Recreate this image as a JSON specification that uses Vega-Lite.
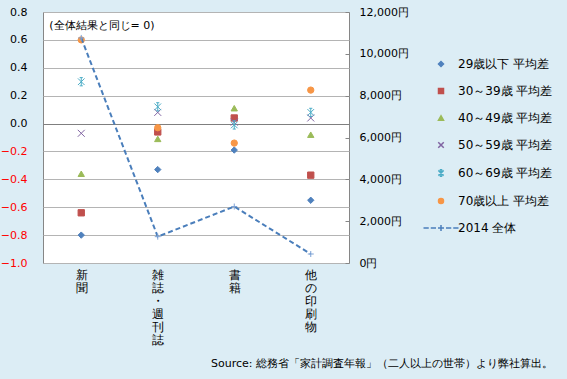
{
  "$schema": "https://vega.github.io/schema/vega-lite/v6.json",
  "width": 306,
  "height": 251,
  "autosize": {"type": "none"},
  "padding": {"left": 43, "top": 12, "right": 218, "bottom": 116},
  "background": "#dcedf5",
  "config": {
    "font": "DejaVu Sans",
    "view": {"fill": "white", "stroke": "#868686", "strokeWidth": 1},
    "axis": {"labelFont": "DejaVu Sans", "labelFontSize": 11, "labelColor": "#000000"}
  },
  "title": {
    "text": "Source: 総務省「家計調査年報」（二人以上の世帯）より弊社算出。",
    "orient": "bottom",
    "anchor": "end",
    "frame": "bounds",
    "offset": 13,
    "fontSize": 11,
    "fontWeight": "normal",
    "font": "DejaVu Sans",
    "color": "#000000"
  },
  "datasets": {
    "pts": [
      {"cat": "新聞", "series": "29歳以下 平均差", "value": -0.80},
      {"cat": "雑誌・週刊誌", "series": "29歳以下 平均差", "value": -0.33},
      {"cat": "書籍", "series": "29歳以下 平均差", "value": -0.19},
      {"cat": "他の印刷物", "series": "29歳以下 平均差", "value": -0.55},
      {"cat": "新聞", "series": "30～39歳 平均差", "value": -0.64},
      {"cat": "雑誌・週刊誌", "series": "30～39歳 平均差", "value": -0.06},
      {"cat": "書籍", "series": "30～39歳 平均差", "value": 0.04},
      {"cat": "他の印刷物", "series": "30～39歳 平均差", "value": -0.37},
      {"cat": "新聞", "series": "40～49歳 平均差", "value": -0.36},
      {"cat": "雑誌・週刊誌", "series": "40～49歳 平均差", "value": -0.11},
      {"cat": "書籍", "series": "40～49歳 平均差", "value": 0.11},
      {"cat": "他の印刷物", "series": "40～49歳 平均差", "value": -0.08},
      {"cat": "新聞", "series": "50～59歳 平均差", "value": -0.07},
      {"cat": "雑誌・週刊誌", "series": "50～59歳 平均差", "value": 0.08},
      {"cat": "書籍", "series": "50～59歳 平均差", "value": 0.01},
      {"cat": "他の印刷物", "series": "50～59歳 平均差", "value": 0.04},
      {"cat": "新聞", "series": "60～69歳 平均差", "value": 0.30},
      {"cat": "雑誌・週刊誌", "series": "60～69歳 平均差", "value": 0.12},
      {"cat": "書籍", "series": "60～69歳 平均差", "value": -0.01},
      {"cat": "他の印刷物", "series": "60～69歳 平均差", "value": 0.08},
      {"cat": "新聞", "series": "70歳以上 平均差", "value": 0.60},
      {"cat": "雑誌・週刊誌", "series": "70歳以上 平均差", "value": -0.03},
      {"cat": "書籍", "series": "70歳以上 平均差", "value": -0.14},
      {"cat": "他の印刷物", "series": "70歳以上 平均差", "value": 0.24}
    ],
    "line": [
      {"cat": "新聞", "series": "2014 全体", "yen": 10760},
      {"cat": "雑誌・週刊誌", "series": "2014 全体", "yen": 1260},
      {"cat": "書籍", "series": "2014 全体", "yen": 2700},
      {"cat": "他の印刷物", "series": "2014 全体", "yen": 430}
    ],
    "note": [{"cat": "新聞", "label": "(全体結果と同じ= 0)", "v": 0.70}]
  },
  "encoding": {
    "x": {
      "field": "cat",
      "type": "nominal",
      "sort": ["新聞", "雑誌・週刊誌", "書籍", "他の印刷物"],
      "scale": {"padding": 0.5},
      "axis": {
        "title": null,
        "labelAngle": 0,
        "labelExpr": "split(datum.label, '')",
        "labelFontSize": 12,
        "labelLineHeight": 13,
        "labelBaseline": "top",
        "labelPadding": 6,
        "ticks": false,
        "domain": false,
        "grid": false
      }
    }
  },
  "layer": [
    {
      "encoding": {
        "y": {
          "type": "quantitative",
          "scale": {"domain": [-1, 0.8], "nice": false, "zero": false},
          "axis": {
            "title": null,
            "orient": "left",
            "values": [-1, -0.8, -0.6, -0.4, -0.2, 0, 0.2, 0.4, 0.6, 0.8],
            "format": ".1f",
            "ticks": false,
            "domain": false,
            "labelPadding": 16,
            "labelColor": {"condition": {"test": "datum.value < 0", "value": "#ff0000"}, "value": "#000000"},
            "grid": true,
            "gridColor": {"condition": {"test": "datum.value === 0", "value": "#7f7f7f"}, "value": "#b4b4b4"},
            "gridOpacity": 1
          }
        }
      },
      "layer": [
        {
          "data": {"name": "pts"},
          "mark": {"type": "point", "filled": true, "size": 40, "opacity": 1, "strokeWidth": 1},
          "encoding": {
            "y": {"field": "value"},
            "color": {
              "field": "series",
              "type": "nominal",
              "scale": {
                "domain": ["29歳以下 平均差", "30～39歳 平均差", "40～49歳 平均差", "50～59歳 平均差", "60～69歳 平均差", "70歳以上 平均差", "2014 全体"],
                "range": ["#4f81bd", "#c0504d", "#9bbb59", "#8064a2", "#4bacc6", "#f79646", "#4a7ebb"]
              },
              "legend": {
                "title": null,
                "orient": "none",
                "legendX": 392,
                "legendY": 46,
                "labelFontSize": 12,
                "labelFont": "DejaVu Sans",
                "labelColor": "#000000",
                "symbolSize": 25,
                "rowPadding": 15,
                "labelOffset": 11,
                "labelLimit": 200,
                "encode": {
                  "symbols": {
                    "update": {
                      "stroke": {"scale": "color", "field": "value"},
                      "strokeWidth": [{"test": "datum.value === '2014 全体'", "value": 2}, {"value": 1}],
                      "fill": {"scale": "color", "field": "value"},
                      "opacity": {"value": 1}
                    }
                  }
                }
              }
            },
            "shape": {
              "field": "series",
              "type": "nominal",
              "scale": {
                "domain": ["29歳以下 平均差", "30～39歳 平均差", "40～49歳 平均差", "50～59歳 平均差", "60～69歳 平均差", "70歳以上 平均差", "2014 全体"],
                "range": [
                  "diamond",
                  "square",
                  "triangle-up",
                  "M-1.1,-1.1L1.1,1.1M-1.1,1.1L1.1,-1.1",
                  "M-1.05,-1.05L1.05,1.05M-1.05,1.05L1.05,-1.05M0,-1.3V1.3M-0.5,-1.3H0.5M-0.5,1.3H0.5",
                  "circle",
                  "M-7,0H-4.9M-4.1,0H-2M-1.2,0H1.2M2,0H4.1M4.9,0H7M0,-1.2V1.2"
                ]
              },
              "legend": {"title": null}
            },
            "stroke": {
              "field": "series",
              "type": "nominal",
              "scale": {
                "domain": ["29歳以下 平均差", "30～39歳 平均差", "40～49歳 平均差", "50～59歳 平均差", "60～69歳 平均差", "70歳以上 平均差"],
                "range": ["#4f81bd", "#c0504d", "#9bbb59", "#8064a2", "#4bacc6", "#f79646"]
              },
              "legend": null
            }
          }
        },
        {
          "data": {"name": "note"},
          "mark": {"type": "text", "align": "left", "baseline": "middle", "dx": -32, "fontSize": 11, "font": "DejaVu Sans", "color": "#000000"},
          "encoding": {
            "y": {"field": "v"},
            "text": {"field": "label"}
          }
        }
      ]
    },
    {
      "data": {"name": "line"},
      "encoding": {
        "y": {
          "field": "yen",
          "type": "quantitative",
          "scale": {"domain": [0, 12000], "nice": false},
          "axis": {
            "title": null,
            "orient": "right",
            "values": [0, 2000, 4000, 6000, 8000, 10000, 12000],
            "labelExpr": "format(datum.value, ',') + '円'",
            "domain": false,
            "grid": false,
            "ticks": true,
            "tickSize": -4,
            "tickColor": "#868686",
            "labelPadding": 14
          }
        }
      },
      "layer": [
        {
          "mark": {"type": "line", "strokeWidth": 2, "strokeDash": [5, 3]},
          "encoding": {
            "color": {"field": "series", "type": "nominal"}
          }
        },
        {
          "mark": {"type": "point", "shape": "M-1,0H1M0,-1V1", "size": 36, "color": "#7ea3d6", "strokeWidth": 1, "opacity": 1}
        }
      ]
    }
  ],
  "resolve": {"scale": {"y": "independent"}}
}
